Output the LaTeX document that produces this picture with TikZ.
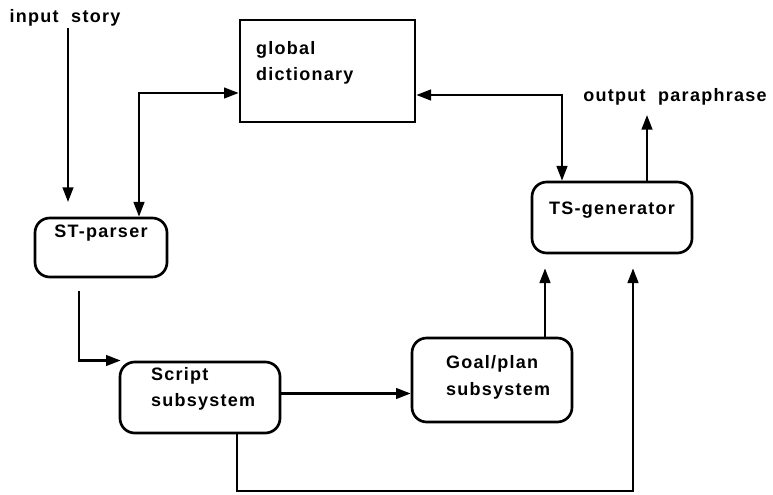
\documentclass[tikz,border=0pt]{standalone}
\usepackage{fontspec}
\setmainfont{Liberation Sans}[LetterSpace=7]
\usetikzlibrary{arrows.meta,calc}

\tikzset{every picture/.style={line width=1.7pt}}
\tikzset{
  rbox/.style={draw, line width=2pt, rounded corners=11pt, inner sep=0pt},
  sbox/.style={draw, line width=2pt, inner sep=0pt},
  lbl/.style={inner sep=0pt, font=\fontsize{13.5}{20}\selectfont\bfseries, align=left},
  arr/.style={-{Triangle[length=11pt,width=8pt]}},
  darr/.style={{Triangle[length=11pt,width=8pt]}-{Triangle[length=11pt,width=8pt]}}
}

\begin{document}
\begin{tikzpicture}[x=0.75pt,y=0.75pt,yscale=-1,xscale=1]
\useasboundingbox (0,0) rectangle (773,495);

%Shape: Rectangle [dictionary]
\node[sbox, minimum width=131.25pt, minimum height=76.5pt] (dict) at (327.5,71) {};
%Shape: Rounded Rect [parser]
\node[rbox, minimum width=99pt, minimum height=44.25pt] (stp) at (101,247.5) {};
%Shape: Rounded Rect [script]
\node[rbox, minimum width=120pt, minimum height=53.25pt] (script) at (200,397.5) {};
%Shape: Rounded Rect [goal]
\node[rbox, minimum width=120pt, minimum height=63pt] (goal) at (492,380) {};
%Shape: Rounded Rect [generator]
\node[rbox, minimum width=120pt, minimum height=53.25pt] (tsg) at (612,217.5) {};

% Text Node
\node[lbl] (in) at (65,18) {input~~story};
% Text Node
\node[lbl] (out) at (675,97) {output~~paraphrase};
% Text Node
\node[lbl, anchor=west] (dict-t) at (255,63) {global\\dictionary};
% Text Node
\node[lbl] (stp-t) at (101,233) {ST-parser};
% Text Node
\node[lbl, anchor=west] (script-t) at (150,389) {Script\\subsystem};
% Text Node
\node[lbl, anchor=west] (goal-t) at (445,377.5) {Goal/plan\\subsystem};
% Text Node
\node[lbl] (tsg-t) at (612,210) {TS-generator};

\coordinate (in-tip) at (68,202);
\coordinate (out-tip) at (647,115);

%Straight Lines
\draw[arr] (in.south -| in-tip) -- (in-tip);
\draw[darr] ($(stp.north)+(38,0)$) |- ($(dict.west)+(0,22)$);
\draw[darr] ($(dict.east)+(0,24)$) -| ($(tsg.north)+(-50,0)$);
\draw[arr] (tsg.north -| out-tip) -- (out-tip);
\draw[arr] ($(stp.south)+(-22,13)$) |- ($(script.west)+(2,-37)$);
\draw[arr] ($(script.east)+(0,-4)$) coordinate (sg) -- (goal.west |- sg);
\draw[arr] ($(goal.north)+(53,0)$) -- ($(tsg.south)+(-67,14)$);
\draw[arr] ($(script.south)+(37,0)$) -- ++(0,57) -| ($(tsg.south)+(21,14)$);

\end{tikzpicture}
\end{document}
